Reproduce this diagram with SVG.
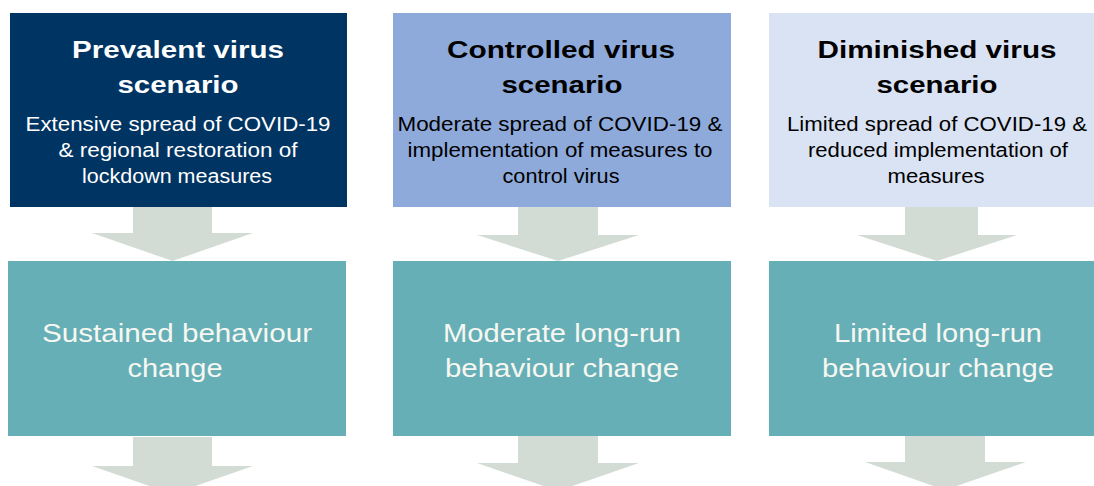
<svg xmlns="http://www.w3.org/2000/svg" width="1094" height="486" viewBox="0 0 1094 486">
<style>
.t{font-family:"Liberation Sans",Arial,sans-serif;font-weight:bold;font-size:23px;text-anchor:middle}
.b{font-family:"Liberation Sans",Arial,sans-serif;font-size:20px;text-anchor:middle}
.m{font-family:"Liberation Sans",Arial,sans-serif;font-size:26px;text-anchor:middle;fill:#f7f7f2}
.arrow{fill:#d3dcd4}
.mid{fill:#66afb6}
</style>
<rect width="1094" height="486" fill="#ffffff"/>
<g id="connectors">
<polygon class="arrow" points="133,207 212,207 212,233 253,233 172.5,261 92,233 133,233"/>
<polygon class="arrow" points="518,207 598,207 598,235 639,235 558,261 477,235 518,235"/>
<polygon class="arrow" points="905,207 978,207 978,235 1017,235 937,261 857,235 905,235"/>
<polygon class="arrow" points="133,437 212,437 212,466 253,466 172.5,494 92,466 133,466"/>
<polygon class="arrow" points="518,436 598,436 598,463 639,463 558,491 477,463 518,463"/>
<polygon class="arrow" points="905,435 985,435 985,462 1026,462 945,490 865,462 905,462"/>
</g>
<g id="prevalent">
<rect x="10" y="13" width="337" height="194" fill="#003462"/>
<g fill="#ffffff">
<text class="t" x="178" y="58" textLength="212" lengthAdjust="spacingAndGlyphs">Prevalent virus</text>
<text class="t" x="178" y="93" textLength="121" lengthAdjust="spacingAndGlyphs">scenario</text>
<text class="b" x="178" y="131" textLength="305" lengthAdjust="spacingAndGlyphs">Extensive spread of COVID-19</text>
<text class="b" x="178" y="157" textLength="239" lengthAdjust="spacingAndGlyphs">&amp; regional restoration of</text>
<text class="b" x="177" y="183" textLength="190" lengthAdjust="spacingAndGlyphs">lockdown measures</text>
</g>
</g>
<g id="controlled">
<rect x="393" y="13" width="338" height="194" fill="#8eaadb"/>
<g fill="#000000">
<text class="t" x="561" y="58" textLength="228" lengthAdjust="spacingAndGlyphs">Controlled virus</text>
<text class="t" x="562" y="93" textLength="121" lengthAdjust="spacingAndGlyphs">scenario</text>
<text class="b" x="560" y="131" textLength="325" lengthAdjust="spacingAndGlyphs">Moderate spread of COVID-19 &amp;</text>
<text class="b" x="560" y="157" textLength="305" lengthAdjust="spacingAndGlyphs">implementation of measures to</text>
<text class="b" x="561" y="183" textLength="117" lengthAdjust="spacingAndGlyphs">control virus</text>
</g>
</g>
<g id="diminished">
<rect x="769" y="13" width="338" height="194" fill="#dae3f3"/>
<g fill="#000000">
<text class="t" x="937" y="58" textLength="239" lengthAdjust="spacingAndGlyphs">Diminished virus</text>
<text class="t" x="937" y="93" textLength="121" lengthAdjust="spacingAndGlyphs">scenario</text>
<text class="b" x="937" y="131" textLength="300" lengthAdjust="spacingAndGlyphs">Limited spread of COVID-19 &amp;</text>
<text class="b" x="938" y="157" textLength="260" lengthAdjust="spacingAndGlyphs">reduced implementation of</text>
<text class="b" x="936" y="183" textLength="97" lengthAdjust="spacingAndGlyphs">measures</text>
</g>
</g>
<g id="sustained">
<rect class="mid" x="8" y="261" width="338" height="175"/>
<text class="m" x="177" y="342" textLength="270" lengthAdjust="spacingAndGlyphs">Sustained behaviour</text>
<text class="m" x="175" y="377" textLength="95" lengthAdjust="spacingAndGlyphs">change</text>
</g>
<g id="moderate">
<rect class="mid" x="393" y="261" width="338" height="175"/>
<text class="m" x="562" y="342" textLength="238" lengthAdjust="spacingAndGlyphs">Moderate long-run</text>
<text class="m" x="562" y="377" textLength="234" lengthAdjust="spacingAndGlyphs">behaviour change</text>
</g>
<g id="limited">
<rect class="mid" x="769" y="261" width="338" height="175"/>
<text class="m" x="938" y="342" textLength="208" lengthAdjust="spacingAndGlyphs">Limited long-run</text>
<text class="m" x="938" y="377" textLength="232" lengthAdjust="spacingAndGlyphs">behaviour change</text>
</g>
</svg>
